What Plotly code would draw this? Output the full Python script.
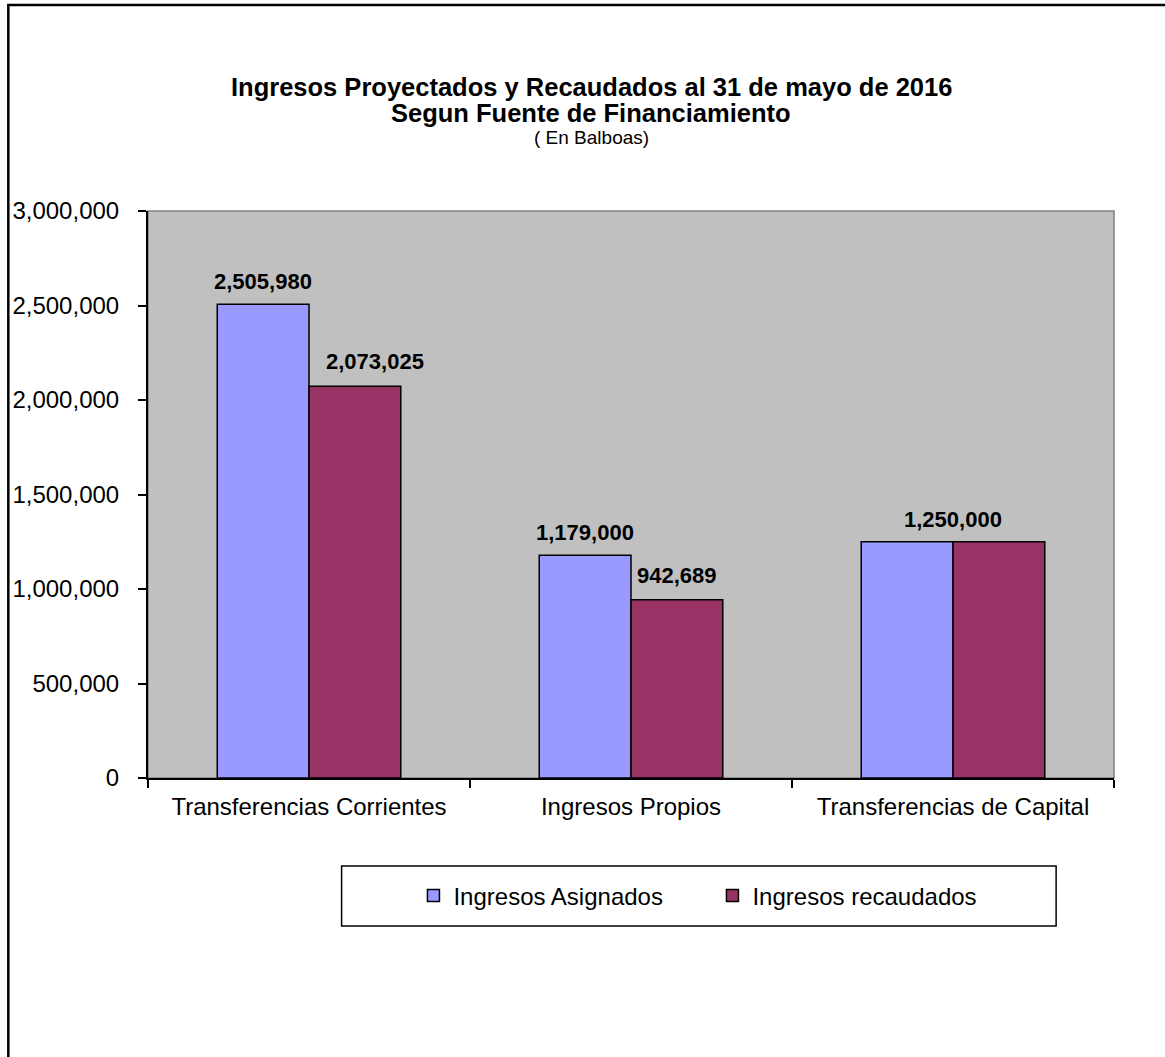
import plotly.graph_objects as go

categories = ["Transferencias Corrientes", "Ingresos Propios", "Transferencias de Capital"]
asignados = [2505980, 1179000, 1250000]
recaudados = [2073025, 942689, 1250000]
series_names = ["Ingresos Asignados", "Ingresos recaudados"]
y_ticks = [0, 500000, 1000000, 1500000, 2000000, 2500000, 3000000]

BLUE = "#9999FF"
MAROON = "#993366"
FONT = "Liberation Sans, Arial, sans-serif"

fig = go.Figure()
fig.add_trace(go.Bar(x=categories, y=asignados, name=series_names[0],
                     marker=dict(color=BLUE, line=dict(color="black", width=1.5))))
fig.add_trace(go.Bar(x=categories, y=recaudados, name=series_names[1],
                     marker=dict(color=MAROON, line=dict(color="black", width=1.5))))

annotations = []
# data labels (Excel style); the capital pair shares one centred label
for i, cat in enumerate(categories):
    if asignados[i] == recaudados[i]:
        annotations.append(dict(x=cat, y=asignados[i], xref="x", yref="y",
                                text=f"<b>{asignados[i]:,}</b>", showarrow=False,
                                yanchor="bottom", yshift=8,
                                font=dict(family=FONT, size=22, color="black")))
        continue
    annotations.append(dict(x=cat, y=asignados[i], xref="x", yref="y",
                            text=f"<b>{asignados[i]:,}</b>", showarrow=False,
                            xshift=-46, yanchor="bottom", yshift=8,
                            font=dict(family=FONT, size=22, color="black")))
    annotations.append(dict(x=cat, y=recaudados[i], xref="x", yref="y",
                            text=f"<b>{recaudados[i]:,}</b>", showarrow=False,
                            xshift=66 if i == 0 else 46, yanchor="bottom", yshift=10,
                            font=dict(family=FONT, size=22, color="black")))

# titles
annotations += [
    dict(x=0.4587, y=1.2187, xref="paper", yref="paper", showarrow=False,
         text="<b>Ingresos Proyectados y Recaudados al 31 de mayo de 2016</b>",
         font=dict(family=FONT, size=25.5, color="black"), yanchor="middle"),
    dict(x=0.4587, y=1.1728, xref="paper", yref="paper", showarrow=False,
         text="<b>Segun Fuente de Financiamiento</b>",
         font=dict(family=FONT, size=25.5, color="black"), yanchor="middle"),
    dict(x=0.4587, y=1.1305, xref="paper", yref="paper", showarrow=False,
         text="( En Balboas)",
         font=dict(family=FONT, size=19, color="black"), yanchor="middle"),
]

shapes = [
    # plot area frame (gray)
    dict(type="rect", xref="paper", yref="paper", x0=0, x1=1, y0=0, y1=1,
         line=dict(color="#808080", width=1.5), layer="below"),
    # outer chart border
    dict(type="rect", xref="paper", yref="paper", x0=-0.1446, x1=1.2, y0=-0.7, y1=1.3633,
         line=dict(color="black", width=2.5), layer="above"),
    # legend box
    dict(type="rect", xref="paper", yref="paper",
         x0=(340 - 146) / 968, x1=(1056 - 146) / 968,
         y0=(778 - 926) / 567, y1=(778 - 866) / 567,
         line=dict(color="black", width=1.5), layer="above"),
]

fig.update_layout(
    width=1165, height=1057,
    margin=dict(l=146, r=51, t=211, b=279),
    paper_bgcolor="white", plot_bgcolor="#C0C0C0",
    barmode="group", bargap=0.43, bargroupgap=0,
    font=dict(family=FONT, color="black"),
    showlegend=True,
    legend=dict(orientation="h", x=(412 - 146) / 968, xanchor="left",
                y=(778 - 896) / 567, yanchor="middle",
                font=dict(family=FONT, size=24, color="black"),
                bgcolor="rgba(0,0,0,0)", borderwidth=0, entrywidth=254,
                traceorder="normal"),
    annotations=annotations,
    shapes=shapes,
)
fig.update_xaxes(showline=True, linecolor="black", linewidth=2,
                 ticks="outside", tickson="boundaries", ticklen=8, tickcolor="black",
                 tickwidth=1.5, showgrid=False,
                 tickfont=dict(family=FONT, size=24, color="black"),
                 ticklabelstandoff=6)
fig.update_yaxes(range=[0, 3000000], tickvals=y_ticks, tickformat=",d",
                 showline=True, linecolor="black", linewidth=2,
                 ticks="outside", ticklen=8, tickcolor="black", tickwidth=1.5,
                 showgrid=False, zeroline=False,
                 tickfont=dict(family=FONT, size=24, color="black"),
                 ticklabelstandoff=14)

fig.write_html("out.html", config={"displayModeBar": False},
               post_script="document.body.style.margin='0';document.body.style.overflow='hidden';")
